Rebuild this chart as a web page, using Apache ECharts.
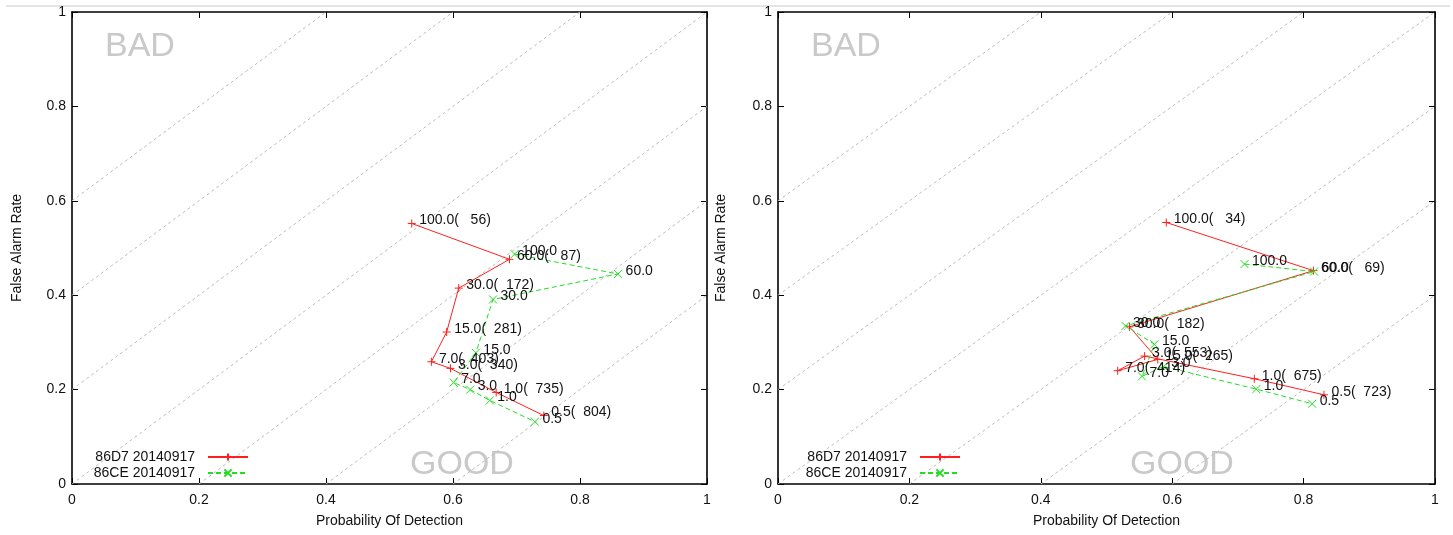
<!DOCTYPE html>
<html>
<head>
<meta charset="utf-8">
<script src="https://cdn.jsdelivr.net/npm/echarts@6/dist/echarts.min.js"></script>
<style>
  html, body { margin: 0; padding: 0; background: #fff; }
  #chart { width: 1453px; height: 535px; }
</style>
</head>
<body>
<div id="chart"></div>
<script>
// Threshold of each operating point (same for every curve)
const thresholds = [100, 60, 30, 15, 7, 3, 1, 0.5];

// Left panel
const leftD7Pod   = [0.535, 0.689, 0.609, 0.590, 0.566, 0.596, 0.668, 0.743];
const leftD7Far   = [0.552, 0.476, 0.415, 0.322, 0.259, 0.245, 0.194, 0.145];
const leftD7Count = [56, 87, 172, 281, 403, 340, 735, 804];
const leftCePod   = [0.697, 0.860, 0.663, 0.636, 0.601, 0.627, 0.658, 0.729];
const leftCeFar   = [0.487, 0.445, 0.391, 0.278, 0.215, 0.200, 0.177, 0.132];

// Right panel
const rightD7Pod   = [0.591, 0.815, 0.535, 0.578, 0.517, 0.558, 0.725, 0.831];
const rightD7Far   = [0.554, 0.452, 0.333, 0.264, 0.240, 0.271, 0.223, 0.189];
const rightD7Count = [34, 69, 182, 265, 414, 553, 675, 723];
const rightCePod   = [0.710, 0.816, 0.529, 0.573, 0.554, 0.587, 0.728, 0.813];
const rightCeFar   = [0.466, 0.450, 0.335, 0.296, 0.228, 0.249, 0.201, 0.170];

const seriesNames = ['86D7 20140917', '86CE 20140917'];
const tickStep = 0.2;
// Offsets c of the reference lines FAR = POD + c
const diagOffsets = [-0.6, -0.4, -0.2, 0, 0.2, 0.4, 0.6];

const FONT = "'Liberation Sans', Arial, Helvetica, sans-serif";
const TEXT = '#111';
const RED = '#ff1f1f';
const GREEN = '#22dd22';
const PLUS = 'path://M5,0L5,10M0,5L10,5';
const CROSS = 'path://M0,0L10,10M10,0L0,10';

const grids = [
  { left: 72, top: 12, width: 635, height: 472 },
  { left: 778, top: 12, width: 657, height: 472 }
];

function xAxis(g, pos) {
  const main = pos === 'bottom';
  return {
    type: 'value', gridIndex: g, position: pos, min: 0, max: 1, interval: tickStep,
    axisLine: { show: true, onZero: false, lineStyle: { color: '#000', width: 1.6 } },
    axisTick: { show: true, inside: true, length: 6, lineStyle: { color: '#000', width: 1 } },
    axisLabel: { show: main, fontSize: 14, color: TEXT, fontFamily: FONT, margin: 9 },
    splitLine: { show: false },
    name: main ? 'Probability Of Detection' : '',
    nameLocation: 'middle', nameGap: 30,
    nameTextStyle: { fontSize: 14, color: TEXT, fontFamily: FONT }
  };
}
function yAxis(g, pos, gap) {
  const main = pos === 'left';
  return {
    type: 'value', gridIndex: g, position: pos, min: 0, max: 1, interval: tickStep,
    axisLine: { show: true, onZero: false, lineStyle: { color: '#000', width: 1.6 } },
    axisTick: { show: true, inside: true, length: 6, lineStyle: { color: '#000', width: 1 } },
    axisLabel: { show: main, fontSize: 14, color: TEXT, fontFamily: FONT, margin: 6 },
    splitLine: { show: false },
    name: main ? 'False Alarm Rate' : '',
    nameLocation: 'middle', nameGap: gap,
    nameTextStyle: { fontSize: 14, color: TEXT, fontFamily: FONT }
  };
}

function diagSeries(g) {
  const data = diagOffsets.map(c => ({
    coords: [[Math.max(0, -c), Math.max(0, c)], [Math.min(1, 1 - c), Math.min(1, 1 + c)]]
  }));
  return {
    type: 'lines', coordinateSystem: 'cartesian2d', xAxisIndex: 2 * g, yAxisIndex: 2 * g,
    data, silent: true, z: 1,
    lineStyle: { color: '#bcbcbc', width: 1, type: [3, 3], opacity: 1 }
  };
}

function curve(name, g, pods, fars, labels, color, dashed, symbol) {
  return {
    type: 'line', name, xAxisIndex: 2 * g, yAxisIndex: 2 * g,
    data: pods.map((p, i) => [p, fars[i]]),
    symbol, symbolSize: 8, showSymbol: true,
    lineStyle: { color, width: 1, type: dashed ? [5, 3] : 'solid' },
    itemStyle: { color, borderColor: color, borderWidth: 1 },
    label: {
      show: true, position: 'right', distance: 3, offset: [0, -3],
      fontSize: 14, color: TEXT, fontFamily: FONT,
      formatter: p => labels[p.dataIndex]
    },
    emphasis: { disabled: true }, z: 3
  };
}

const withCount = counts => thresholds.map((t, i) => t.toFixed(1) + '(' + String(counts[i]).padStart(5) + ')');
const plain = thresholds.map(t => t.toFixed(1));

function legend(name, rightPx, top) {
  return {
    data: [name], right: rightPx, top, orient: 'vertical', align: 'right', padding: 0,
    itemWidth: 40, itemHeight: 9, selectedMode: false,
    textStyle: { fontSize: 14, color: TEXT, fontFamily: FONT, padding: [0, 8, 0, 0] }
  };
}

const textMark = (txt, left, top) => ({
  type: 'text', left, top, silent: true,
  style: { text: txt, fontSize: 34, fontFamily: FONT, fill: '#c9c9c9' }
});

const chart = echarts.init(document.getElementById('chart'));
chart.setOption({
  animation: false,
  textStyle: { fontFamily: FONT },
  grid: grids,
  xAxis: [xAxis(0, 'bottom'), xAxis(0, 'top'), xAxis(1, 'bottom'), xAxis(1, 'top')],
  yAxis: [yAxis(0, 'left', 48), yAxis(0, 'right', 0), yAxis(1, 'left', 50), yAxis(1, 'right', 0)],
  legend: [
    legend(seriesNames[0], 1453 - 249, 450),
    legend(seriesNames[1], 1453 - 249, 466),
    legend(seriesNames[0], 1453 - 961, 450),
    legend(seriesNames[1], 1453 - 961, 466)
  ],
  graphic: [
    { type: 'line', silent: true, shape: { x1: 6, y1: 6, x2: 1450, y2: 6 }, style: { stroke: '#e4e4e4', lineWidth: 2 } },
    textMark('BAD', 105, 30),
    textMark('GOOD', 410, 448),
    textMark('BAD', 811, 30),
    textMark('GOOD', 1130, 448)
  ],
  series: [
    diagSeries(0),
    diagSeries(1),
    curve(seriesNames[0], 0, leftD7Pod, leftD7Far, withCount(leftD7Count), RED, false, PLUS),
    curve(seriesNames[1], 0, leftCePod, leftCeFar, plain, GREEN, true, CROSS),
    curve(seriesNames[0], 1, rightD7Pod, rightD7Far, withCount(rightD7Count), RED, false, PLUS),
    curve(seriesNames[1], 1, rightCePod, rightCeFar, plain, GREEN, true, CROSS)
  ]
});
</script>
</body>
</html>
